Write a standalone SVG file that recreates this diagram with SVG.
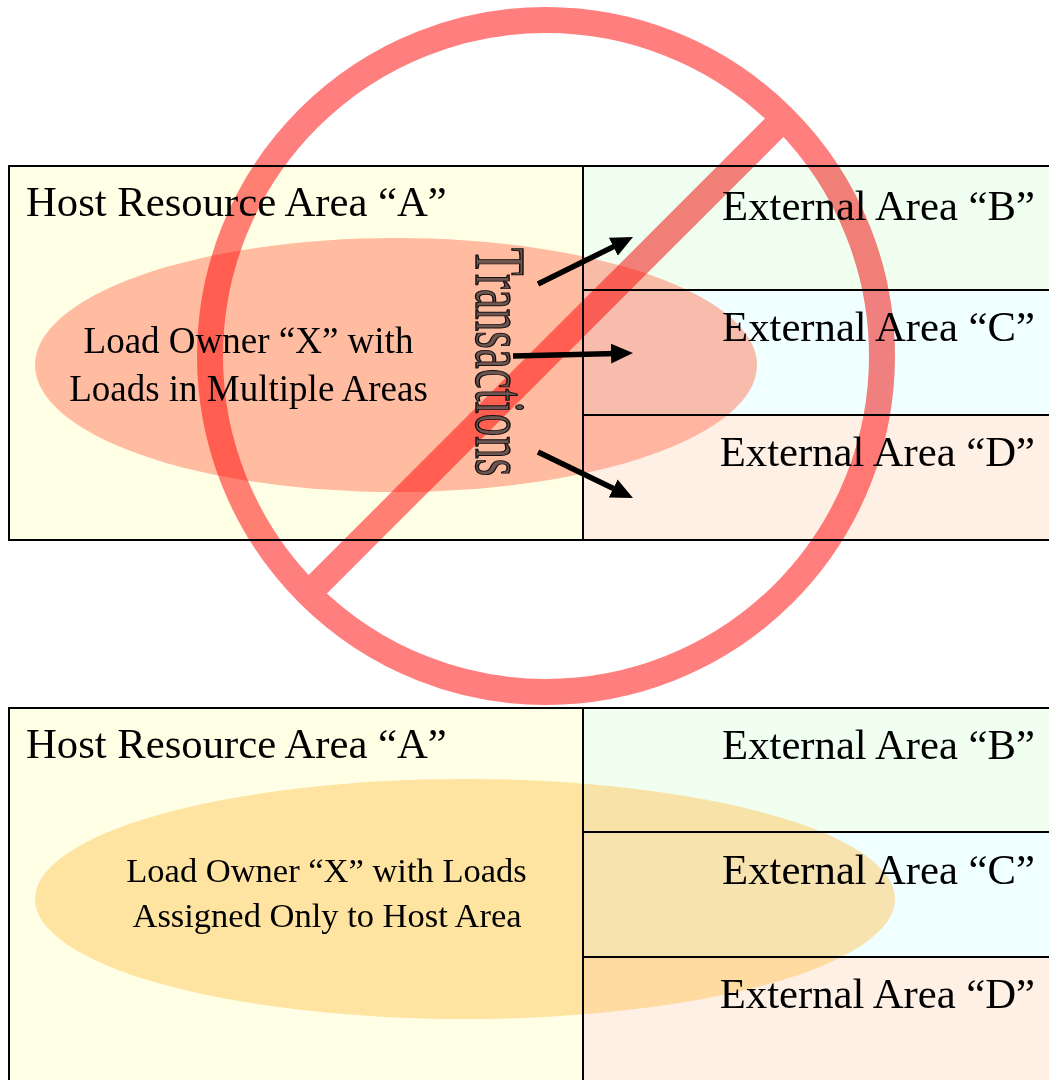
<svg xmlns="http://www.w3.org/2000/svg" width="1049" height="1080" viewBox="0 0 1049 1080">
<style>
  .lbl { font-family: "Liberation Serif", "Times New Roman", serif; fill: #000; }
  .big { font-size: 42.7px; }
  .edge { fill: none; stroke: #000; stroke-width: 2; }
  .fa { fill: #FFFFE6; }
  .fb { fill: #F0FFF0; }
  .fc { fill: #F0FFFF; }
  .fd { fill: #FFF0E6; }
  .nosign { mix-blend-mode: multiply; }
  .arrow { stroke: #000; stroke-width: 5.5; fill: none; marker-end: url(#head); }
</style>
<defs>
  <marker id="head" markerUnits="userSpaceOnUse" markerWidth="22" markerHeight="20" refX="6" refY="10" orient="auto">
    <path d="M0,0 L22,10 L0,20 z" fill="#000"/>
  </marker>
</defs>
<rect x="0" y="0" width="1049" height="1080" fill="#fff"/>

<!-- Top scenario -->
<g id="top-area-A">
  <rect class="fa" x="9" y="166" width="574" height="374"/>
</g>
<g id="top-area-B">
  <rect class="fb" x="583" y="166" width="480" height="124"/>
</g>
<g id="top-area-C">
  <rect class="fc" x="583" y="290" width="480" height="125"/>
</g>
<g id="top-area-D">
  <rect class="fd" x="583" y="415" width="480" height="125"/>
</g>
<g id="top-load-owner">
  <ellipse cx="396" cy="365" rx="361" ry="127" fill="#FF7A5C" fill-opacity="0.5"/>
</g>

<!-- Bottom scenario -->
<g id="bottom-area-A">
  <rect class="fa" x="9" y="708" width="574" height="400"/>
</g>
<g id="bottom-area-B">
  <rect class="fb" x="583" y="708" width="480" height="124"/>
</g>
<g id="bottom-area-C">
  <rect class="fc" x="583" y="832" width="480" height="125"/>
</g>
<g id="bottom-area-D">
  <rect class="fd" x="583" y="957" width="480" height="151"/>
</g>
<g id="bottom-load-owner">
  <ellipse cx="465" cy="899" rx="430" ry="120" fill="#FFC04D" fill-opacity="0.45"/>
</g>

<!-- Prohibition sign -->
<g id="no-sign" class="nosign">
  <circle cx="546" cy="356" r="336" fill="none" stroke="#FF7F7F" stroke-width="26"/>
  <line x1="783" y1="119" x2="309" y2="593" stroke="#FF7F7F" stroke-width="26"/>
</g>

<!-- Borders -->
<g id="borders">
  <rect class="edge" x="9" y="166" width="1060" height="374"/>
  <line class="edge" x1="583" y1="166" x2="583" y2="540"/>
  <line class="edge" x1="583" y1="290" x2="1060" y2="290"/>
  <line class="edge" x1="583" y1="415" x2="1060" y2="415"/>
  <rect class="edge" x="9" y="708" width="1060" height="400"/>
  <line class="edge" x1="583" y1="708" x2="583" y2="1090"/>
  <line class="edge" x1="583" y1="832" x2="1060" y2="832"/>
  <line class="edge" x1="583" y1="957" x2="1060" y2="957"/>
</g>

<!-- Labels -->
<g id="labels">
  <text class="lbl big" x="26" y="216">Host Resource Area “A”</text>
  <text class="lbl big" x="1035" y="220" text-anchor="end">External Area “B”</text>
  <text class="lbl big" x="1035" y="341" text-anchor="end">External Area “C”</text>
  <text class="lbl big" x="1035" y="466" text-anchor="end">External Area “D”</text>
  <text class="lbl" x="248.5" y="353" font-size="37" text-anchor="middle">Load Owner “X” with</text>
  <text class="lbl" x="248.5" y="401" font-size="37" text-anchor="middle">Loads in Multiple Areas</text>
  <text class="lbl" font-size="45" stroke="#111" stroke-width="0.9" transform="translate(476,248) rotate(90) scale(1,1.6)" style="fill:#6e5550">Transactions</text>

  <text class="lbl big" x="26" y="758">Host Resource Area “A”</text>
  <text class="lbl big" x="1035" y="759" text-anchor="end">External Area “B”</text>
  <text class="lbl big" x="1035" y="884" text-anchor="end">External Area “C”</text>
  <text class="lbl big" x="1035" y="1008" text-anchor="end">External Area “D”</text>
  <text class="lbl" x="326.5" y="882" font-size="34.5" text-anchor="middle">Load Owner “X” with Loads</text>
  <text class="lbl" x="327" y="927" font-size="34.5" text-anchor="middle">Assigned Only to Host Area</text>
</g>

<!-- Connectors -->
<g id="connectors">
  <line class="arrow" x1="538" y1="284" x2="618.7" y2="244.1"/>
  <line class="arrow" x1="513" y1="356" x2="617" y2="353.4"/>
  <line class="arrow" x1="538" y1="452" x2="618.6" y2="491"/>
</g>
</svg>
